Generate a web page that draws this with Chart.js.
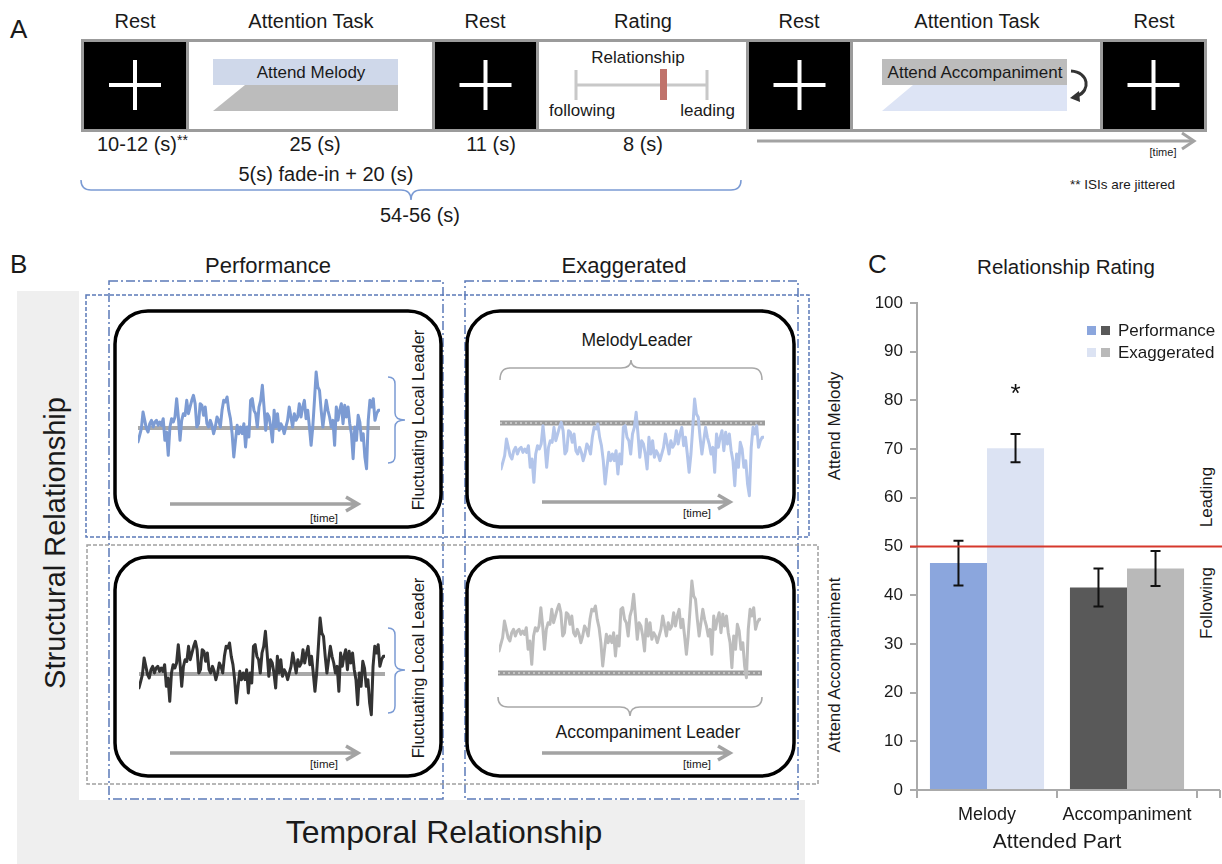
<!DOCTYPE html>
<html>
<head>
<meta charset="utf-8">
<script src="https://cdn.jsdelivr.net/npm/chart.js@4.4.1/dist/chart.umd.min.js"></script>
<style>
html,body{margin:0;padding:0;background:#fff;}
#stage{position:relative;width:1222px;height:864px;overflow:hidden;font-family:'Liberation Sans',Arial,Helvetica,sans-serif;color:#1a1a1a;}
#stage svg{position:absolute;left:0;top:0;}
#stage canvas{position:absolute;}
.t{position:absolute;white-space:nowrap;color:#1a1a1a;}
.sq{position:absolute;width:9px;height:9px;}
</style>
</head>
<body>
<div id="stage">
<svg width="1222" height="864" font-family="'Liberation Sans',Arial,Helvetica,sans-serif" fill="#1a1a1a">
  <!-- ===== Panel A ===== -->
  <text x="10" y="38" font-size="26">A</text>
  <g font-size="20" text-anchor="middle">
    <text x="135" y="28">Rest</text>
    <text x="311" y="28">Attention Task</text>
    <text x="485" y="28">Rest</text>
    <text x="643" y="28">Rating</text>
    <text x="799" y="28">Rest</text>
    <text x="977" y="28">Attention Task</text>
    <text x="1154" y="28">Rest</text>
  </g>
  <rect x="81" y="39" width="1126" height="93" fill="#9b9b9b"/>
  <rect x="84" y="42" width="102" height="87" fill="#000"/>
  <rect x="189" y="42" width="243" height="87" fill="#fff"/>
  <rect x="435" y="42" width="101" height="87" fill="#000"/>
  <rect x="539" y="42" width="207" height="87" fill="#fff"/>
  <rect x="749" y="42" width="101" height="87" fill="#000"/>
  <rect x="853" y="42" width="247" height="87" fill="#fff"/>
  <rect x="1103" y="42" width="101" height="87" fill="#000"/>
  <g stroke="#fff" stroke-width="4" fill="none">
    <path d="M109,85H161M135,60V110"/>
    <path d="M459.5,85H511.5M485.5,60V110"/>
    <path d="M773.5,85H825.5M799.5,60V110"/>
    <path d="M1127.5,85H1179.5M1153.5,60V110"/>
  </g>
  <!-- attend melody -->
  <rect x="213" y="59" width="185" height="26" fill="#cfd8ea"/>
  <polygon points="213,111 245,85 398,85 398,111" fill="#bcbcbc"/>
  <text x="311" y="78" font-size="17" text-anchor="middle">Attend Melody</text>
  <!-- rating -->
  <text x="638" y="63" font-size="17" text-anchor="middle">Relationship</text>
  <g stroke="#c8c8c8" stroke-width="3" fill="none">
    <path d="M576,85H707M576,70V100M707,70V100"/>
  </g>
  <rect x="660" y="69" width="7" height="31" fill="#c0736b"/>
  <text x="549" y="116" font-size="17">following</text>
  <text x="735" y="116" font-size="17" text-anchor="end">leading</text>
  <!-- attend accompaniment -->
  <rect x="882" y="59" width="185" height="26" fill="#bcbcbc"/>
  <polygon points="882,111 913,85 1067,85 1067,111" fill="#dde4f5"/>
  <text x="975" y="78" font-size="17" text-anchor="middle">Attend Accompaniment</text>
  <path d="M1071,71 C1089,72 1091,91 1077,96" stroke="#333" stroke-width="3" fill="none"/>
  <polygon points="1070,98 1079,91 1080,102" fill="#333"/>
  <!-- durations -->
  <g font-size="20">
    <text x="97" y="151">10-12 (s)<tspan font-size="14" dy="-6">**</tspan></text>
    <text x="315" y="151" text-anchor="middle">25 (s)</text>
    <text x="326" y="181" text-anchor="middle">5(s) fade-in + 20 (s)</text>
    <text x="491" y="151" text-anchor="middle">11 (s)</text>
    <text x="643" y="151" text-anchor="middle">8 (s)</text>
    <text x="420" y="222" text-anchor="middle">54-56 (s)</text>
  </g>
  <g stroke="#a3a3a3" stroke-width="3" fill="none">
    <path d="M757,141H1192"/>
    <path d="M1182,133L1194,141L1182,149"/>
  </g>
  <text x="1163" y="156" font-size="11" text-anchor="middle">[time]</text>
  <text x="1070" y="189" font-size="13.5">** ISIs are jittered</text>
  <path d="M81,180 Q81,190 91,190 L401,190 Q411,190 411,200 Q411,190 421,190 L731,190 Q741,190 741,180" stroke="#7b9bd4" stroke-width="1.5" fill="none"/>

  <!-- ===== Panel B ===== -->
  <text x="10" y="273" font-size="26">B</text>
  <path d="M17,291 L79,291 L79,800 L805,800 L805,864 L17,864 Z" fill="#efefef"/>
  <text transform="translate(65,543) rotate(-90)" font-size="29" text-anchor="middle">Structural Relationship</text>
  <text x="444" y="843" font-size="32" text-anchor="middle">Temporal Relationship</text>
  <text x="268" y="273" font-size="22" text-anchor="middle">Performance</text>
  <text x="624" y="273" font-size="22" text-anchor="middle">Exaggerated</text>
  <g fill="none" stroke-width="1.5">
    <rect x="109" y="281" width="334" height="518" stroke="#5b7ab8" stroke-dasharray="9,3,2,3"/>
    <rect x="465" y="281" width="333" height="518" stroke="#5b7ab8" stroke-dasharray="9,3,2,3"/>
    <rect x="86" y="295" width="723" height="242" stroke="#5b7ab8" stroke-dasharray="4,2"/>
    <rect x="87" y="545" width="731" height="239" stroke="#a0a0a0" stroke-dasharray="4,2"/>
  </g>
  <g fill="#fff" stroke="#000" stroke-width="3.5">
    <rect x="115" y="311" width="326" height="216" rx="33"/>
    <rect x="467" y="311" width="327" height="216" rx="33"/>
    <rect x="115" y="557" width="326" height="219" rx="33"/>
    <rect x="467" y="557" width="327" height="219" rx="33"/>
  </g>
  <!-- reference (baseline) lines -->
  <g fill="none">
    <path d="M138,428H380M139,674H385" stroke="#a9a9a9" stroke-width="4"/>
    <path d="M500,423H765M498,673H762" stroke="#9c9c9c" stroke-width="5"/>
    <path d="M500,423H765M498,673H762" stroke="#c4c4c4" stroke-width="2" stroke-dasharray="2,3"/>
  </g>
  <!-- braces -->
  <g fill="none" stroke-width="1.5">
    <path d="M388,377 Q395,377 395,384 L395,413 Q395,420 405,420 Q395,420 395,427 L395,456 Q395,463 388,463" stroke="#7b9bd4"/>
    <path d="M388,628 Q395,628 395,635 L395,663 Q395,670 405,670 Q395,670 395,677 L395,706 Q395,713 388,713" stroke="#7b9bd4"/>
    <path d="M500,380 Q500,368 510,368 L621,368 Q631,368 631,360 Q631,368 641,368 L752,368 Q762,368 762,380" stroke="#a8a8a8"/>
    <path d="M498,697 Q498,707 508,707 L620,707 Q630,707 630,716 Q630,707 640,707 L752,707 Q762,707 762,697" stroke="#a8a8a8"/>
  </g>
  <text transform="translate(424,420) rotate(-90)" font-size="16.5" text-anchor="middle">Fluctuating Local Leader</text>
  <text transform="translate(424,668) rotate(-90)" font-size="16.5" text-anchor="middle">Fluctuating Local Leader</text>
  <text transform="translate(840,426) rotate(-90)" font-size="17" text-anchor="middle">Attend Melody</text>
  <text transform="translate(840,665) rotate(-90)" font-size="17" text-anchor="middle">Attend Accompaniment</text>
  <text x="637" y="346" font-size="17.5" text-anchor="middle">MelodyLeader</text>
  <text x="648" y="738" font-size="17.5" text-anchor="middle">Accompaniment Leader</text>
  <!-- time arrows -->
  <g stroke="#a3a3a3" stroke-width="3.5" fill="none">
    <path d="M170,504H356M346,497L358,504L346,511"/>
    <path d="M542,502H728M718,495L730,502L718,509"/>
    <path d="M170,753H356M346,746L358,753L346,760"/>
    <path d="M542,753H728M718,746L730,753L718,760"/>
  </g>
  <g font-size="11.5" text-anchor="middle">
    <text x="324" y="522">[time]</text>
    <text x="697" y="517">[time]</text>
    <text x="324" y="768">[time]</text>
    <text x="697" y="768">[time]</text>
  </g>

  <!-- ===== Panel C texts ===== -->
  <text x="868" y="273" font-size="26">C</text>
  <text x="1066" y="274" font-size="20.5" text-anchor="middle">Relationship Rating</text>
  <text transform="translate(1212,497) rotate(-90)" font-size="17" text-anchor="middle">Leading</text>
  <text transform="translate(1212,603) rotate(-90)" font-size="17" text-anchor="middle">Following</text>
</svg>

<canvas id="wave1"></canvas>
<canvas id="wave2"></canvas>
<canvas id="wave3"></canvas>
<canvas id="wave4"></canvas>
<canvas id="chartC" width="362" height="584" style="left:860px;top:280px;width:362px;height:584px"></canvas>

<div class="sq" style="left:1087px;top:326px;background:#8ba6dd"></div>
<div class="sq" style="left:1101px;top:326px;background:#595959"></div>
<div class="t" style="left:1118px;top:321px;font-size:17px;line-height:20px">Performance</div>
<div class="sq" style="left:1087px;top:348px;background:#dce3f3"></div>
<div class="sq" style="left:1101px;top:348px;background:#b9b9b9"></div>
<div class="t" style="left:1118px;top:343px;font-size:17px;line-height:20px">Exaggerated</div>
</div>

<script>
// ---------------- data ----------------
const categories = ['Melody', 'Accompaniment'];
const seriesNames = ['Performance', 'Exaggerated'];
const performanceMeans = [46.6, 41.6];
const exaggeratedMeans = [70.2, 45.5];
const performanceSE = [4.6, 3.9];
const exaggeratedSE = [2.9, 3.6];
const significance = ['*', ''];          // marks above the Exaggerated bars
const neutralRating = 50;                 // following / leading boundary
const yAxisMin = 0, yAxisMax = 100, yAxisStep = 10;

// illustrative time course (amplitude, arbitrary units) shared by the four panels of B
const waveform = [-42,-22,-2,48,23,-2,-12,13,23,3,18,23,8,18,8,28,-37,-12,-82,3,28,18,33,88,33,-37,23,43,38,83,
  43,63,83,98,73,3,13,73,68,38,63,13,3,23,8,-17,3,33,23,3,53,83,78,93,53,28,-17,-87,-37,8,
  -17,3,-17,13,-57,3,-27,83,88,53,43,3,63,83,128,63,-7,43,33,3,-42,53,3,43,-7,13,3,-17,3,23,
  63,33,3,43,23,33,73,33,63,83,28,53,3,-52,3,83,168,123,113,53,3,43,83,53,33,3,23,-52,63,23,
  53,73,13,68,33,63,13,-17,-92,3,-37,38,18,-37,-17,-87,-122,23,83,63,88,23,43,53,53];
const waveRange = {min: -150, max: 180};

// ---------------- styles ----------------
const FONT = "'Liberation Sans', Arial, Helvetica, sans-serif";
Chart.defaults.font.family = FONT;
const barColors = {Performance: ['#8ba6dd', '#595959'], Exaggerated: ['#dce3f3', '#b9b9b9']};

// ---------------- panel B waves ----------------
const wavePanels = [
  {id: 'wave1', left: 138, width: 242, zero: 428, color: '#7c9bd3'},
  {id: 'wave2', left: 501, width: 263, zero: 455, color: '#b3c5ea'},
  {id: 'wave3', left: 139, width: 246, zero: 674, color: '#333333'},
  {id: 'wave4', left: 499, width: 262, zero: 637, color: '#bdbdbd'}
];
const waveHeight = 110;
wavePanels.forEach(p => {
  const c = document.getElementById(p.id);
  c.width = p.width; c.height = waveHeight;
  const pxPerUnit = waveHeight / (waveRange.max - waveRange.min);
  c.style.left = p.left + 'px';
  c.style.top = (p.zero - waveRange.max * pxPerUnit) + 'px';
  c.style.width = p.width + 'px'; c.style.height = waveHeight + 'px';
  new Chart(c, {
    type: 'line',
    data: {labels: waveform.map((_, i) => i),
      datasets: [{data: waveform, borderColor: p.color, borderWidth: 3, pointRadius: 0,
        tension: 0, clip: false, borderJoinStyle: 'round', borderCapStyle: 'round'}]},
    options: {responsive: false, animation: false, events: [], devicePixelRatio: 1,
      layout: {padding: 0},
      plugins: {legend: {display: false}, tooltip: {enabled: false}},
      scales: {x: {display: false}, y: {display: false, min: waveRange.min, max: waveRange.max}}}
  });
});

// ---------------- panel C ----------------
const errors = [performanceSE, exaggeratedSE];
const overlayPlugin = {
  id: 'overlay',
  afterDatasetsDraw(chart) {
    const ctx = chart.ctx, y = chart.scales.y, area = chart.chartArea;
    ctx.save();
    // axis extension to the right edge
    ctx.strokeStyle = '#aaaaaa'; ctx.lineWidth = 2;
    ctx.beginPath(); ctx.moveTo(area.right, area.bottom); ctx.lineTo(chart.width - 2, area.bottom);
    ctx.moveTo(chart.width - 2, area.bottom); ctx.lineTo(chart.width - 2, area.bottom + 8); ctx.stroke();
    // error bars
    ctx.strokeStyle = '#111'; ctx.lineWidth = 2;
    chart.data.datasets.forEach((ds, di) => {
      const meta = chart.getDatasetMeta(di);
      meta.data.forEach((bar, i) => {
        const v = ds.data[i], e = errors[di][i];
        const t = y.getPixelForValue(v + e), b = y.getPixelForValue(v - e), x = bar.x;
        ctx.beginPath();
        ctx.moveTo(x, t); ctx.lineTo(x, b);
        ctx.moveTo(x - 5, t); ctx.lineTo(x + 5, t);
        ctx.moveTo(x - 5, b); ctx.lineTo(x + 5, b);
        ctx.stroke();
      });
    });
    // neutral line
    const yy = y.getPixelForValue(neutralRating);
    ctx.strokeStyle = '#d6392c'; ctx.lineWidth = 2;
    ctx.beginPath(); ctx.moveTo(area.left - 7, yy); ctx.lineTo(chart.width, yy); ctx.stroke();
    // significance marks
    const meta1 = chart.getDatasetMeta(1);
    ctx.fillStyle = '#111'; ctx.font = '26px ' + FONT; ctx.textAlign = 'center'; ctx.textBaseline = 'alphabetic';
    significance.forEach((s, i) => {
      if (!s) return;
      const top = y.getPixelForValue(exaggeratedMeans[i] + exaggeratedSE[i]);
      ctx.fillText(s, meta1.data[i].x, top - 32);
    });
    ctx.restore();
  }
};

new Chart(document.getElementById('chartC'), {
  type: 'bar',
  data: {
    labels: categories,
    datasets: [
      {label: seriesNames[0], data: performanceMeans, backgroundColor: barColors.Performance, borderWidth: 0,
        categoryPercentage: 0.815, barPercentage: 1},
      {label: seriesNames[1], data: exaggeratedMeans, backgroundColor: barColors.Exaggerated, borderWidth: 0,
        categoryPercentage: 0.815, barPercentage: 1}
    ]
  },
  options: {
    responsive: false, animation: false, events: [], devicePixelRatio: 1,
    layout: {padding: {top: 23, right: 25, bottom: 0, left: 0}},
    plugins: {legend: {display: false}, tooltip: {enabled: false}, title: {display: false}},
    scales: {
      x: {
        afterFit(s) { s.height = 74; },
        grid: {display: true, drawOnChartArea: false, drawTicks: true, tickLength: 8, color: '#aaaaaa', lineWidth: 2, offset: true},
        border: {display: true, color: '#aaaaaa', width: 2},
        ticks: {font: {size: 18}, color: '#1a1a1a', padding: 6, maxRotation: 0},
        title: {display: true, text: 'Attended Part', font: {size: 21}, color: '#1a1a1a', padding: {top: 0, bottom: 9}}
      },
      y: {
        min: yAxisMin, max: yAxisMax,
        afterFit(s) { s.width = 57; },
        grid: {display: true, drawOnChartArea: false, drawTicks: true, tickLength: 7, color: '#aaaaaa', lineWidth: 2},
        border: {display: true, color: '#aaaaaa', width: 2},
        ticks: {stepSize: yAxisStep, font: {size: 17}, color: '#1a1a1a', padding: 7}
      }
    }
  },
  plugins: [overlayPlugin]
});
</script>
</body>
</html>
